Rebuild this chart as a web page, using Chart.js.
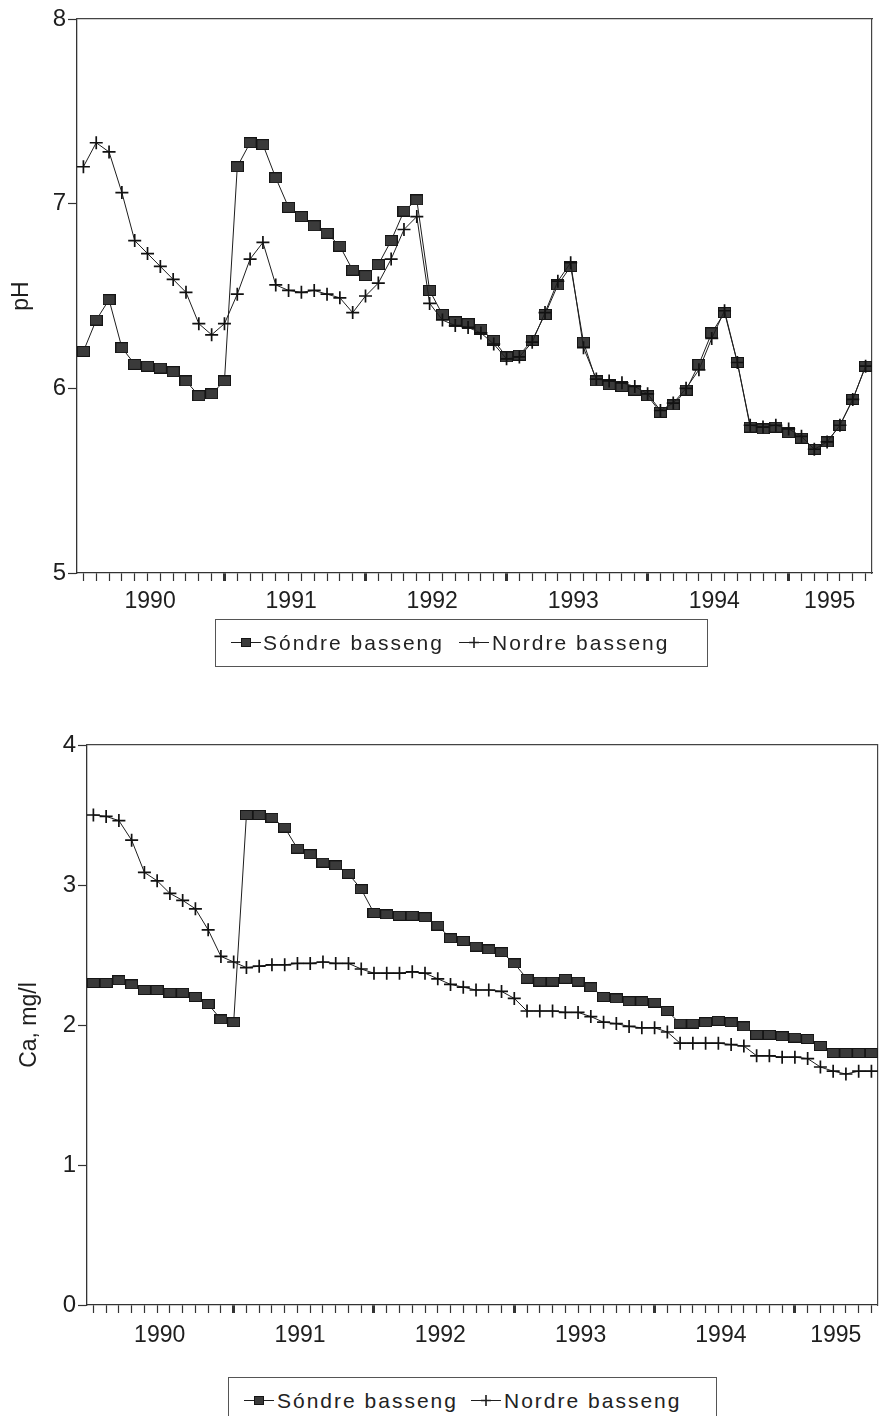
<!DOCTYPE html>
<html><head><meta charset="utf-8">
<script src="https://cdn.jsdelivr.net/npm/chart.js@4.4.1/dist/chart.umd.min.js"></script>
<style>
html,body{margin:0;padding:0;background:#fff;width:886px;height:1416px;overflow:hidden;position:relative;}
canvas.chart{position:absolute;left:0;}
#c1{top:0}
#c2{top:700px}
.legend{position:absolute;border:1.5px solid #555;box-sizing:border-box;font-family:"Liberation Sans",Arial,sans-serif;font-size:21px;letter-spacing:2px;color:#222;}
.legend span{position:absolute;top:0;line-height:45px;white-space:nowrap;}
.legend canvas{position:absolute;}
</style></head><body>
<canvas class="chart" id="c1" width="886" height="625"></canvas>
<canvas class="chart" id="c2" width="886" height="655"></canvas>
<div class="legend" id="lg1" style="left:215px;top:619px;width:493px;height:48px;"></div>
<div class="legend" id="lg2" style="left:228px;top:1377px;width:489px;height:50px;"></div>
<script>
// ---- data ----
const seriesNames = ['Sóndre basseng', 'Nordre basseng'];
const yearLabels = ['1990', '1991', '1992', '1993', '1994', '1995'];
const samplesPerYear = [11, 11, 11, 11, 11, 7];
const phTicks = [5, 6, 7, 8];
const caTicks = [0, 1, 2, 3, 4];

const phSondre = [6.20,6.37,6.48,6.22,6.13,6.12,6.11,6.09,6.04,5.96,5.97,
                  6.04,7.20,7.33,7.32,7.14,6.98,6.93,6.88,6.84,6.77,6.64,
                  6.61,6.67,6.80,6.96,7.02,6.53,6.40,6.36,6.35,6.32,6.26,
                  6.17,6.18,6.26,6.40,6.56,6.66,6.25,6.04,6.02,6.01,5.99,
                  5.96,5.87,5.91,5.99,6.13,6.30,6.41,6.14,5.79,5.78,5.79,
                  5.76,5.73,5.67,5.71,5.80,5.94,6.12];
const phNordre = [7.20,7.33,7.28,7.06,6.80,6.73,6.66,6.59,6.52,6.35,6.29,
                  6.35,6.51,6.70,6.79,6.56,6.53,6.52,6.53,6.51,6.49,6.41,
                  6.50,6.57,6.70,6.86,6.93,6.46,6.37,6.34,6.33,6.30,6.24,
                  6.16,6.17,6.25,6.41,6.58,6.68,6.22,6.05,6.04,6.03,6.01,
                  5.97,5.88,5.92,6.00,6.10,6.27,6.42,6.14,5.80,5.79,5.80,
                  5.78,5.74,5.67,5.71,5.80,5.94,6.12];
const caSondre = [2.30,2.30,2.32,2.29,2.25,2.25,2.23,2.23,2.20,2.15,2.04,
                  2.02,3.50,3.50,3.48,3.41,3.26,3.22,3.16,3.14,3.08,2.97,
                  2.80,2.79,2.78,2.78,2.77,2.71,2.62,2.60,2.56,2.54,2.52,
                  2.44,2.33,2.31,2.31,2.33,2.31,2.27,2.20,2.19,2.17,2.17,
                  2.16,2.10,2.01,2.01,2.02,2.03,2.02,1.99,1.93,1.93,1.92,
                  1.91,1.90,1.85,1.80,1.80,1.80,1.80];
const caNordre = [3.50,3.49,3.46,3.32,3.09,3.03,2.94,2.89,2.83,2.68,2.49,
                  2.45,2.41,2.42,2.43,2.43,2.44,2.44,2.45,2.44,2.44,2.40,
                  2.37,2.37,2.37,2.38,2.37,2.33,2.29,2.27,2.25,2.25,2.24,
                  2.19,2.10,2.10,2.10,2.09,2.09,2.06,2.02,2.01,1.99,1.98,
                  1.98,1.95,1.87,1.87,1.87,1.87,1.86,1.85,1.78,1.78,1.77,
                  1.77,1.76,1.70,1.67,1.65,1.67,1.67];

// ---- helpers ----
const FONT = '"Liberation Sans", Arial, sans-serif';
const INK = '#1e1e1e';

function makeRect(w, h) {
  const c = document.createElement('canvas'); c.width = w; c.height = h;
  const g = c.getContext('2d');
  g.fillStyle = '#3a3a3a'; g.fillRect(0, 0, w, h);
  g.strokeStyle = '#151515'; g.lineWidth = 1; g.strokeRect(0.5, 0.5, w - 1, h - 1);
  return c;
}

function xTickList() {
  const t = []; let start = 0;
  yearLabels.forEach((y, k) => {
    const n = samplesPerYear[k];
    for (let j = 0; j < n; j++) t.push({ value: start + j, major: j === 0 && k > 0 });
    t.push({ value: start + (n - 1) / 2 + 0.2, lab: y });
    start += n;
  });
  return t.sort((a, b) => a.value - b.value);
}
const nSamples = samplesPerYear.reduce((a, b) => a + b, 0);
const toPts = arr => arr.map((v, i) => ({ x: i, y: v }));

function makeChart(id, opt) {
  const ds = [
    { label: seriesNames[0], data: toPts(opt.s), xAxisID: 'x', yAxisID: 'y',
      borderColor: INK, borderWidth: 1, pointStyle: makeRect(opt.sqW, opt.sqH),
      pointRadius: 7, backgroundColor: '#3a3a3a', tension: 0, order: 2 },
    { label: seriesNames[1], data: toPts(opt.n), xAxisID: 'x', yAxisID: 'y',
      borderColor: INK, borderWidth: 1, pointStyle: 'cross', pointRadius: 6.5,
      pointBorderWidth: 1.7, pointBorderColor: '#111', tension: 0, order: 1 }
  ];
  const xMin = -0.5, xMax = nSamples - 0.5;
  return new Chart(document.getElementById(id), {
    type: 'line',
    data: { datasets: ds },
    options: {
      responsive: false, animation: false, events: [],
      layout: { padding: { top: opt.top, right: opt.right, left: 0, bottom: 0 } },
      plugins: { legend: { display: false }, tooltip: { enabled: false } },
      scales: {
        x: {
          type: 'linear', position: 'bottom', min: xMin, max: xMax,
          afterBuildTicks: s => { s.ticks = xTickList(); },
          afterFit: s => { s.height = opt.xh; },
          ticks: { autoSkip: false, maxRotation: 0, minRotation: 0, padding: opt.xpad,
                   color: INK, font: { family: FONT, size: 23 },
                   callback: (v, i, t) => t[i].lab || '' },
          grid: { drawOnChartArea: false, drawTicks: true, tickLength: 8,
                  tickColor: c => (c.tick && c.tick.lab) ? 'rgba(0,0,0,0)' : '#333',
                  tickWidth: c => (c.tick && c.tick.major) ? 3 : 1.2 },
          border: { display: true, color: '#333', width: 1.3 }
        },
        y: {
          type: 'linear', position: 'left', min: opt.yTicks[0], max: opt.yTicks[opt.yTicks.length - 1],
          afterBuildTicks: s => { s.ticks = opt.yTicks.map(v => ({ value: v })); },
          afterFit: s => { s.width = opt.left; },
          ticks: { color: INK, font: { family: FONT, size: 24 }, padding: 2 },
          grid: { drawOnChartArea: false, drawTicks: true, tickLength: 9, tickColor: '#333', tickWidth: 1.2 },
          border: { display: true, color: '#333', width: 1.3 },
          title: { display: true, text: opt.title, color: INK, font: { family: FONT, size: 23 },
                   padding: { top: opt.tpad, bottom: 0 } }
        },
        x2: {
          type: 'linear', position: 'top', min: xMin, max: xMax,
          afterFit: s => { s.height = 0; },
          ticks: { display: false }, grid: { display: false, drawTicks: false },
          border: { display: true, color: '#444', width: 1.2 }
        },
        y2: {
          type: 'linear', position: 'right', min: 0, max: 1,
          afterFit: s => { s.width = 0; },
          ticks: { display: false }, grid: { display: false, drawTicks: false },
          border: { display: true, color: '#444', width: 1.2 }
        }
      }
    }
  });
}

makeChart('c1', { s: phSondre, n: phNordre, yTicks: phTicks, title: 'pH',
  top: 19, right: 14, left: 77, xh: 52, xpad: 7, tpad: 8, sqW: 13, sqH: 11 });
makeChart('c2', { s: caSondre, n: caNordre, yTicks: caTicks, title: 'Ca, mg/l',
  top: 45, right: 2, left: 87, xh: 50, xpad: 9, tpad: 16, sqW: 13, sqH: 10 });

// ---- legends ----
function legendIcon(kind) {
  const c = document.createElement('canvas'); c.width = 30; c.height = 14;
  const g = c.getContext('2d');
  g.strokeStyle = INK; g.lineWidth = 1;
  g.beginPath(); g.moveTo(0, 7.5); g.lineTo(30, 7.5); g.stroke();
  if (kind === 0) { g.drawImage(makeRect(10, 9), 10, 3); }
  else { g.lineWidth = 1.6; g.beginPath(); g.moveTo(10, 7.5); g.lineTo(20, 7.5); g.moveTo(15, 2); g.lineTo(15, 13); g.stroke(); }
  return c;
}
function buildLegend(id, pos) {
  const box = document.getElementById(id);
  seriesNames.forEach((name, k) => {
    const ic = legendIcon(k);
    ic.style.left = pos[k][0] + 'px'; ic.style.top = '15px';
    box.appendChild(ic);
    const sp = document.createElement('span');
    sp.textContent = name; sp.style.left = pos[k][1] + 'px';
    box.appendChild(sp);
  });
}
buildLegend('lg1', [[15, 47], [243, 276]]);
buildLegend('lg2', [[15, 48], [242, 275]]);
</script>
</body></html>
